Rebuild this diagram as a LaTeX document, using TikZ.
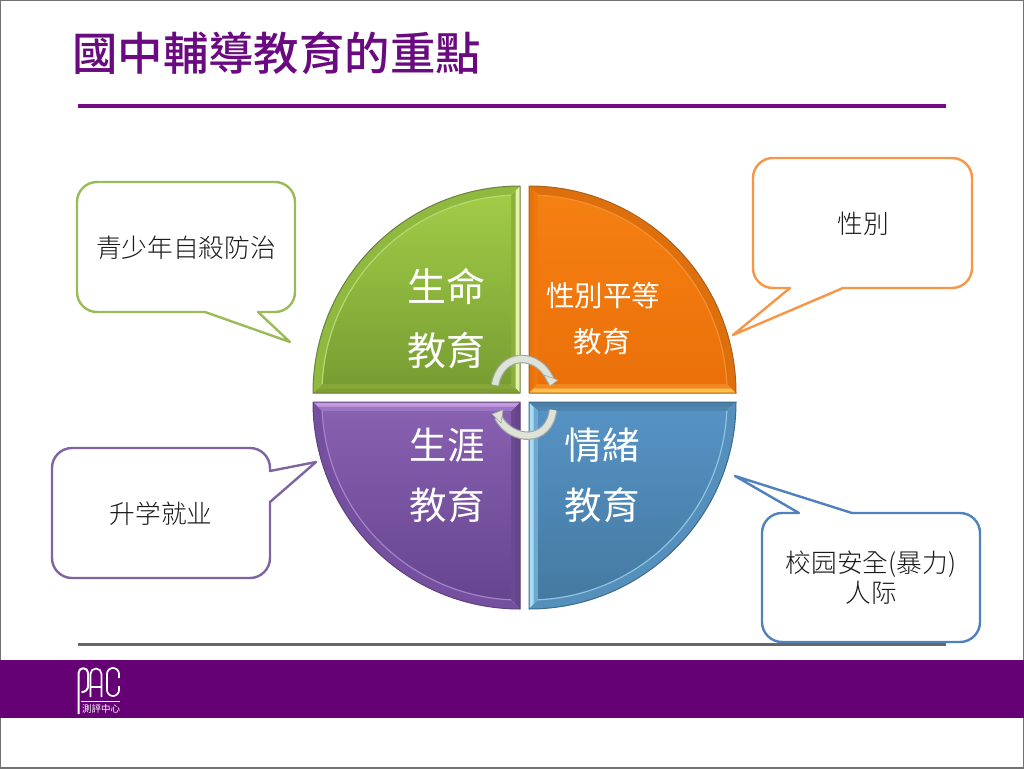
\documentclass[tikz,border=0pt]{standalone}
\usepackage{fontspec}
\newfontfamily\cjk{Noto Sans CJK TC Light}
\newfontfamily\cjkb{Noto Sans CJK TC Medium}
\newfontfamily\cjkr{Noto Sans CJK TC}
\definecolor{plum}{HTML}{660075}
\definecolor{titlec}{HTML}{6A0A80}
\definecolor{rulec}{HTML}{750A85}
\definecolor{cgreen}{HTML}{9BBB59}
\definecolor{corange}{HTML}{F79646}
\definecolor{cpurple}{HTML}{8064A2}
\definecolor{cblue}{HTML}{4F81BD}
\definecolor{arrowc}{HTML}{DDE3D6}
\definecolor{gV}{HTML}{E3F2A8}\definecolor{gW}{HTML}{8DB03C}\definecolor{gH}{HTML}{7F9F33}\definecolor{gJ}{HTML}{86A838}\definecolor{gA}{HTML}{8FB93F}\definecolor{gL}{HTML}{B5DA72}\definecolor{gO}{HTML}{6B8040}\definecolor{gT}{HTML}{A1CC47}\definecolor{gB}{HTML}{789E33}
\definecolor{oV}{HTML}{E8730C}\definecolor{oW}{HTML}{EE780E}\definecolor{oH}{HTML}{FFC04D}\definecolor{oJ}{HTML}{F08A20}\definecolor{oA}{HTML}{DE6F0D}\definecolor{oL}{HTML}{F59030}\definecolor{oO}{HTML}{A8621C}\definecolor{oT}{HTML}{F58012}\definecolor{oB}{HTML}{EB700A}
\definecolor{pV}{HTML}{64458A}\definecolor{pW}{HTML}{6B4A92}\definecolor{pH}{HTML}{C29BDF}\definecolor{pJ}{HTML}{9C75C4}\definecolor{pA}{HTML}{7650A0}\definecolor{pL}{HTML}{A583C8}\definecolor{pO}{HTML}{5D4278}\definecolor{pT}{HTML}{66458F}\definecolor{pB}{HTML}{8860B0}
\definecolor{bV}{HTML}{A8DDF5}\definecolor{bW}{HTML}{6FA8D0}\definecolor{bH}{HTML}{4A7FA8}\definecolor{bJ}{HTML}{4F86B0}\definecolor{bA}{HTML}{558FBC}\definecolor{bL}{HTML}{8CC4E2}\definecolor{bO}{HTML}{3D6A88}\definecolor{bT}{HTML}{457AA1}\definecolor{bB}{HTML}{5592C4}
\tikzset{
  callout/.style={draw=#1,line width=2.4pt,fill=white,line join=round},
  ctext/.style={font=\cjk\fontsize{25.7}{30}\selectfont,text=black!90,inner sep=0pt,align=center},
  bigtext/.style={font=\cjkr\fontsize{39}{39}\selectfont,text=white,inner sep=0pt},
  bigtextb/.style={font=\cjkr\fontsize{37.5}{39}\selectfont,text=white,inner sep=0pt},
  midtext/.style={font=\cjkr\fontsize{28.5}{29}\selectfont,text=white,inner sep=0pt},
  cyclearc/.style={line width=8.5pt,draw=black!35,line cap=butt},
  cycleface/.style={line width=6.2pt,draw=arrowc},
  cyclehead/.style={fill=arrowc,draw=black!35,line width=.6pt},
}
% #1 cx #2 cy #3 sx #4 sy #5 colour prefix #6 shade first #7 shade second
\newcommand{\qpart}[7]{%
\begin{scope}[shift={(#1,#2)},xscale=#3,yscale=#4]
  \fill[#5W] (0,0) -- (9,9) -- (9,197.8) -- (0,207) -- cycle;
  \fill[#5V] (0,0) -- (4.5,4.5) -- (4.5,202.4) -- (0,207) -- cycle;
  \fill[#5J] (0,0) -- (207,0) -- (197.8,9) -- (9,9) -- cycle;
  \fill[#5H] (0,0) -- (207,0) -- (202.4,4.5) -- (4.5,4.5) -- cycle;
  \fill[#5A] (207,0) arc[start angle=0,end angle=90,radius=207] -- (9,197.8)
     arc[start angle=87.4,end angle=2.6,radius=198] -- cycle;
  \shade[top color=#6,bottom color=#7] (9,9) -- (197.8,9) arc[start angle=2.6,end angle=87.4,radius=198] -- cycle;
  \draw[#5L,line width=1.2pt] (197.8,9) arc[start angle=2.6,end angle=87.4,radius=198];
  \draw[#5O,line width=1pt,line join=round] (0,0) -- (207,0) arc[start angle=0,end angle=90,radius=207] -- cycle;
\end{scope}}
\begin{document}
\begin{tikzpicture}[x=1pt,y=1pt]
\useasboundingbox (0,-768) rectangle (1024,0);
\fill[white] (0,-768) rectangle (1024,0);
\draw[gray!90!black,line width=1.6pt] (0,-768) rectangle (1024,0);
% title
\node[font=\cjkb\fontsize{45.4}{46}\selectfont,text=titlec,inner sep=0pt] (title) at (276.5,-53) {國中輔導教育的重點};
\coordinate (ruleL) at (78,-106); \coordinate (ruleR) at (946,-106);
\draw[rulec,line width=4pt] (ruleL) -- (ruleR);
% footer
\coordinate (footL) at (78,-644); \coordinate (footR) at (946,-644);
\draw[black!60,line width=3pt] (footL) -- (footR);
\fill[plum] (0,-660) rectangle (1024,-718);
% logo
\begin{scope}[white,line width=1.7pt,line join=round]
  \draw[line width=2pt] (78.5,-714) -- (78.5,-673) arc[start angle=180,end angle=0,radius=4.8] -- (88.1,-686) arc[start angle=0,end angle=-90,radius=6] -- (83,-692);
  \draw (90.5,-697) -- (90.5,-674) arc[start angle=180,end angle=0,radius=5.5] -- (101.5,-697);
  \draw (90.5,-687) -- (101.5,-687);
  \draw (119,-678) -- (119,-674) arc[start angle=0,end angle=180,radius=6] -- (107,-690) arc[start angle=180,end angle=360,radius=6] -- (119,-686);
  \draw[line width=0.6pt] (81,-701.5) -- (120,-701.5);
\end{scope}
\node[font=\cjkr\fontsize{9.5}{10}\selectfont,text=white,inner sep=0pt] (logo) at (101,-709) {測評中心};
% disc
\qpart{520}{-393}{-1}{1}{g}{gT}{gB}
\qpart{529}{-393}{1}{1}{o}{oT}{oB}
\qpart{520}{-402}{-1}{-1}{p}{pB}{pT}
\qpart{529}{-402}{1}{-1}{b}{bB}{bT}
% cycle arrows
\coordinate (a1) at (495,-385); \coordinate (a2) at (551,-381);
\coordinate (b1) at (553,-410); \coordinate (b2) at (498,-417);
\draw[cyclearc] (a1) .. controls (501,-351) and (539,-351) .. (a2);
\draw[cycleface] (a1) .. controls (501,-351) and (539,-351) .. (a2);
\fill[cyclehead] (558,-380) -- (550,-386) -- (544,-375) -- cycle;
\draw[cyclearc] (b1) .. controls (549,-444) and (511,-442) .. (b2);
\draw[cycleface] (b1) .. controls (549,-444) and (511,-442) .. (b2);
\fill[cyclehead] (492,-414) -- (503,-410) -- (501,-423) -- cycle;
% disc labels
\node[bigtext] (s1) at (446,-286) {生命};
\node[bigtext] (s2) at (446,-351) {教育};
\node[midtext] (o1) at (603,-296) {性別平等};
\node[midtext] (o2) at (602,-342) {教育};
\node[bigtextb] (p1) at (447,-445) {生涯};
\node[bigtextb] (p2) at (447,-505) {教育};
\node[bigtextb] (b3) at (602,-445) {情緒};
\node[bigtextb] (b4) at (602,-505) {教育};
% callouts
\draw[callout=cgreen] (97,-182) -- (275,-182) arc[start angle=90,end angle=0,radius=20] -- (295,-292) arc[start angle=0,end angle=-90,radius=20] -- (258,-312) -- (290,-342) -- (205,-312) -- (97,-312) arc[start angle=-90,end angle=-180,radius=20] -- (77,-202) arc[start angle=180,end angle=90,radius=20] -- cycle;
\node[ctext] (c1) at (186,-248) {青少年自殺防治};
\draw[callout=corange] (773,-158) -- (952,-158) arc[start angle=90,end angle=0,radius=20] -- (972,-268) arc[start angle=0,end angle=-90,radius=20] -- (843,-288) -- (733,-335) -- (790,-288) -- (773,-288) arc[start angle=-90,end angle=-180,radius=20] -- (753,-178) arc[start angle=180,end angle=90,radius=20] -- cycle;
\node[ctext] (c2) at (863,-224) {性別};
\draw[callout=cpurple] (72,-448) -- (250,-448) arc[start angle=90,end angle=0,radius=20] -- (270,-471) -- (316,-462) -- (270,-502) -- (270,-558) arc[start angle=0,end angle=-90,radius=20] -- (72,-578) arc[start angle=-90,end angle=-180,radius=20] -- (52,-468) arc[start angle=180,end angle=90,radius=20] -- cycle;
\node[ctext] (c3) at (161,-514) {升学就业};
\draw[callout=cblue] (782,-513) -- (799,-513) -- (735,-476) -- (852,-513) -- (960,-513) arc[start angle=90,end angle=0,radius=20] -- (980,-622) arc[start angle=0,end angle=-90,radius=20] -- (782,-642) arc[start angle=-90,end angle=-180,radius=20] -- (762,-533) arc[start angle=180,end angle=90,radius=20] -- cycle;
\node[ctext] (c4) at (871,-578) {校园安全(暴力)\\人际};
\end{tikzpicture}
\end{document}
